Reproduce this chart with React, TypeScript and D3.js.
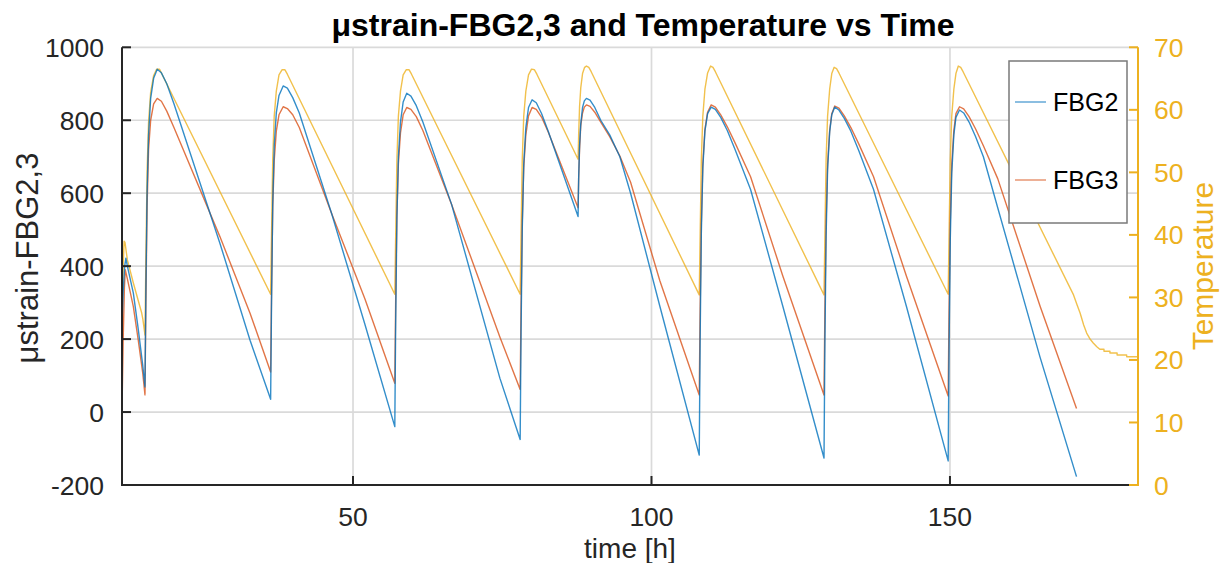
import React from 'react';
import * as d3 from 'd3';

// ---------- data (time [h], value) ----------
const fbg2Initial: [number, number][] = [
  [11.3, 240], [11.5, 330], [11.75, 400], [11.95, 422], [12.2, 400], [13.2, 326], [14.0, 230], [14.77, 129], [15.15, 69],
];
const fbg2Cycles: [number, number][] = [
  [15.3, 330], [15.5, 600], [15.75, 760], [16.1, 860], [16.6, 915], [17.2, 940], [17.9, 930], [18.8, 900], [20.0, 845], [27.7, 463], [32.75, 197], [36.2, 35],
  [36.35, 300], [36.55, 570], [36.8, 730], [37.15, 820], [37.6, 868], [38.3, 894], [39.0, 888], [39.9, 862], [41.0, 820], [46.4, 545], [52.0, 240], [57.0, -40],
  [57.15, 250], [57.35, 530], [57.6, 700], [57.95, 795], [58.4, 850], [59.0, 874], [59.7, 866], [60.6, 840], [61.7, 795], [66.5, 570], [74.6, 93], [78.0, -75],
  [78.15, 220], [78.35, 500], [78.6, 680], [78.95, 780], [79.4, 835], [80.0, 856], [80.7, 848], [81.6, 818], [82.7, 770], [87.7, 536],
  [87.8, 640], [87.95, 730], [88.15, 790], [88.45, 835], [88.75, 853], [89.1, 860], [89.7, 855], [90.5, 835], [91.5, 800], [93.0, 760], [94.7, 700], [96.5, 600], [101.4, 290], [108.0, -118],
  [108.15, 200], [108.35, 490], [108.6, 670], [108.95, 770], [109.4, 818], [110.0, 836], [110.7, 830], [111.6, 808], [112.7, 772], [114.0, 720], [116.6, 610], [122.0, 290], [128.9, -126],
  [129.05, 190], [129.25, 480], [129.5, 665], [129.85, 768], [130.2, 815], [130.7, 836], [131.4, 828], [132.3, 805], [133.4, 770], [134.7, 718], [137.2, 610], [142.7, 290], [149.7, -134],
  [149.85, 180], [150.05, 470], [150.3, 655], [150.65, 760], [151.0, 808], [151.6, 828], [152.3, 820], [153.2, 795], [154.3, 755], [155.6, 700], [158.0, 560], [165.1, 150], [171.2, -177],
];

const fbg3Initial: [number, number][] = [
  [11.3, 5], [11.5, 200], [11.7, 340], [11.85, 390], [12.2, 365], [13.2, 289], [14.0, 200], [14.77, 107], [15.15, 47],
];
const fbg3Cycles: [number, number][] = [
  [15.3, 300], [15.5, 560], [15.75, 720], [16.1, 800], [16.6, 845], [17.2, 860], [17.9, 852], [18.8, 825], [20.0, 780], [27.7, 481], [32.75, 271], [36.2, 110],
  [36.35, 330], [36.55, 560], [36.8, 690], [37.15, 770], [37.6, 815], [38.3, 837], [39.0, 832], [39.9, 815], [41.0, 780], [46.4, 545], [52.0, 310], [57.0, 79],
  [57.15, 310], [57.35, 540], [57.6, 680], [57.95, 765], [58.4, 815], [59.0, 835], [59.7, 830], [60.6, 810], [61.7, 772], [66.5, 570], [74.6, 206], [78.0, 62],
  [78.15, 290], [78.35, 520], [78.6, 670], [78.95, 760], [79.4, 812], [80.0, 835], [80.7, 830], [81.6, 808], [82.7, 768], [87.7, 560],
  [87.8, 640], [87.95, 720], [88.15, 785], [88.45, 820], [88.75, 836], [89.1, 842], [89.7, 838], [90.5, 822], [91.5, 795], [93.0, 755], [94.7, 702], [96.5, 630], [101.4, 360], [108.0, 47],
  [108.15, 280], [108.35, 520], [108.6, 680], [108.95, 775], [109.4, 822], [110.0, 842], [110.7, 836], [111.6, 815], [112.7, 782], [114.0, 738], [116.6, 645], [122.0, 373], [128.9, 47],
  [129.05, 280], [129.25, 520], [129.5, 680], [129.85, 772], [130.2, 818], [130.7, 839], [131.4, 833], [132.3, 812], [133.4, 780], [134.7, 736], [137.2, 645], [142.7, 373], [149.7, 44],
  [149.85, 280], [150.05, 520], [150.3, 680], [150.65, 772], [151.0, 818], [151.6, 837], [152.3, 831], [153.2, 810], [154.3, 776], [155.6, 730], [158.0, 640], [165.1, 290], [171.2, 10],
];

const tempInitial: [number, number][] = [
  [11.3, 25.0], [11.5, 35], [11.65, 39.0], [11.8, 38.8], [12.2, 36.0], [13.2, 32.3], [14.6, 27.5], [14.8, 26.5], [15.15, 24.0],
];
const tempCycles: [number, number][] = [
  [15.3, 36], [15.5, 50], [15.75, 58], [16.1, 62.8], [16.6, 65.5], [17.1, 66.5], [17.6, 66.5], [18.0, 65.7], [36.2, 30.5],
  [36.35, 40], [36.55, 52], [36.8, 59], [37.15, 63], [37.6, 65.6], [38.1, 66.4], [38.6, 66.4], [39.0, 65.7], [57.0, 30.5],
  [57.15, 40], [57.35, 52], [57.6, 59], [57.95, 63], [58.4, 65.6], [58.9, 66.4], [59.4, 66.4], [59.8, 65.7], [78.0, 30.5],
  [78.15, 40], [78.35, 52], [78.6, 59], [78.95, 63], [79.4, 65.6], [79.9, 66.5], [80.4, 66.4], [80.8, 65.7], [87.7, 52.1],
  [87.8, 56], [87.95, 60.5], [88.15, 63.5], [88.45, 65.8], [88.8, 66.8], [89.1, 67.0], [89.5, 66.8], [89.9, 66.1], [108.0, 30.4],
  [108.15, 40], [108.35, 52], [108.6, 59], [108.95, 63.3], [109.4, 65.9], [109.9, 67.0], [110.3, 66.8], [110.7, 66.1], [128.9, 30.4],
  [129.05, 40], [129.25, 52], [129.5, 59], [129.85, 63.3], [130.2, 65.8], [130.6, 66.8], [131.0, 66.6], [131.4, 65.9], [149.7, 30.5],
  [149.85, 40], [150.05, 52], [150.3, 59], [150.65, 63.3], [151.0, 65.8], [151.4, 67.0], [151.8, 66.8], [152.2, 66.1], [170.7, 30.4],
];
const tempTail: [number, number][] = [
  [171.3, 28.8], [171.8, 27.5], [172.4, 25.6], [172.9, 24.3], [173.5, 23.3], [174.0, 22.7], [174.6, 22.1], [175.1, 21.7],
  [175.8, 21.7], [175.8, 21.4], [176.8, 21.4], [176.8, 21.1], [178.0, 21.1], [178.0, 20.8], [179.6, 20.8], [179.6, 20.5], [181.5, 20.5],
];

const xTicks = [50, 100, 150];
const yLeftTicks = [-200, 0, 200, 400, 600, 800, 1000];
const yRightTicks = [0, 10, 20, 30, 40, 50, 60, 70];
const seriesNames = ['FBG2', 'FBG3'];

const xDomain: [number, number] = [11.3, 181.5];
const yLeftDomain: [number, number] = [-200, 1000];
const yRightDomain: [number, number] = [0, 70];

// ---------- styling ----------
const C_BLUE = '#0072BD';
const C_ORANGE = '#D95319';
const C_YELLOW = '#EDB120';
const C_AXIS = '#262626';
const FONT = "'Liberation Sans', Arial, Helvetica, sans-serif";

export default function App() {
  const left = 122, right = 1138, top = 47.3, bottom = 485;
  const x = d3.scaleLinear().domain(xDomain).range([left, right]);
  const yL = d3.scaleLinear().domain(yLeftDomain).range([bottom, top]);
  const yR = d3.scaleLinear().domain(yRightDomain).range([bottom, top]);

  const fbg2 = [...fbg2Initial, ...fbg2Cycles];
  const fbg3 = [...fbg3Initial, ...fbg3Cycles];
  const temp = [...tempInitial, ...tempCycles, ...tempTail];

  const lineL = d3.line<[number, number]>().x(d => x(d[0])).y(d => yL(d[1]));
  const lineR = d3.line<[number, number]>().x(d => x(d[0])).y(d => yR(d[1]));

  const tickLen = 9;
  const tickFont = 26.5;

  return (
    <svg width={1223} height={563} style={{ position: 'absolute', left: 0, top: 0, background: '#fff' }}
      fontFamily={FONT}>
      <rect x={0} y={0} width={1223} height={563} fill="#fff" />
      <defs>
        <clipPath id="plotclip">
          <rect x={left} y={top - 2} width={right - left} height={bottom - top + 4} />
        </clipPath>
      </defs>
      {/* grid */}
      <g stroke="#DADADA" strokeWidth={1.7}>
        {xTicks.map(t => <line key={'gx' + t} x1={x(t)} x2={x(t)} y1={top} y2={bottom} />)}
        {yLeftTicks.map(t => <line key={'gy' + t} x1={left} x2={right} y1={yL(t)} y2={yL(t)} />)}
      </g>
      {/* data */}
      <g clipPath="url(#plotclip)" fill="none" strokeWidth={1.4} strokeLinejoin="round" strokeOpacity={0.8}>
        <path d={lineR(temp) || ''} stroke={C_YELLOW} />
        <path d={lineL(fbg3) || ''} stroke={C_ORANGE} />
        <path d={lineL(fbg2) || ''} stroke={C_BLUE} />
      </g>
      {/* left axis */}
      <line x1={left} x2={left} y1={top} y2={bottom} stroke={C_AXIS} strokeWidth={2} />
      {yLeftTicks.map(t => (
        <g key={'yl' + t}>
          <line x1={left} x2={left + tickLen} y1={yL(t)} y2={yL(t)} stroke={C_AXIS} strokeWidth={2} />
          <text x={104} y={yL(t)} dy="0.36em" textAnchor="end" fontSize={tickFont} fill={C_AXIS}>{t}</text>
        </g>
      ))}
      {/* bottom axis */}
      <line x1={left - 1} x2={right} y1={bottom} y2={bottom} stroke={C_AXIS} strokeWidth={2} />
      {xTicks.map(t => (
        <g key={'xt' + t}>
          <line x1={x(t)} x2={x(t)} y1={bottom} y2={bottom - tickLen} stroke={C_AXIS} strokeWidth={2} />
          <text x={x(t)} y={526} textAnchor="middle" fontSize={tickFont} fill={C_AXIS}>{t}</text>
        </g>
      ))}
      {/* right axis */}
      <line x1={right} x2={right} y1={top} y2={bottom + 1} stroke={C_YELLOW} strokeWidth={2} />
      {yRightTicks.map(t => (
        <g key={'yr' + t}>
          <line x1={right} x2={right - tickLen} y1={yR(t)} y2={yR(t)} stroke={C_YELLOW} strokeWidth={2} />
          <text x={1154} y={yR(t)} dy="0.36em" textAnchor="start" fontSize={tickFont} fill={C_YELLOW}>{t}</text>
        </g>
      ))}
      {/* labels */}
      <text x={630} y={558} textAnchor="middle" fontSize={28} fill={C_AXIS}>time [h]</text>
      <text transform={`translate(38,258) rotate(-90)`} textAnchor="middle" fontSize={31} fill={C_AXIS}>μstrain-FBG2,3</text>
      <text transform={`translate(1213,${(top + bottom) / 2}) rotate(-90)`} textAnchor="middle" fontSize={30} fill={C_YELLOW}>Temperature</text>
      <text x={643} y={36} textAnchor="middle" fontSize={32} fontWeight="bold" fill="#000">μstrain-FBG2,3 and Temperature vs Time</text>
      {/* legend */}
      <g>
        <rect x={1009} y={61} width={118} height={162} fill="#fff" stroke="#7a7a7a" strokeWidth={1.5} />
        {seriesNames.map((n, i) => {
          const ly = 102 + i * 78;
          return (
            <g key={n}>
              <line x1={1015} x2={1046} y1={ly} y2={ly} stroke={i === 0 ? C_BLUE : C_ORANGE} strokeOpacity={0.7} strokeWidth={1.3} />
              <text x={1053} y={ly} dy="0.36em" fontSize={25} fill="#000">{n}</text>
            </g>
          );
        })}
      </g>
    </svg>
  );
}
